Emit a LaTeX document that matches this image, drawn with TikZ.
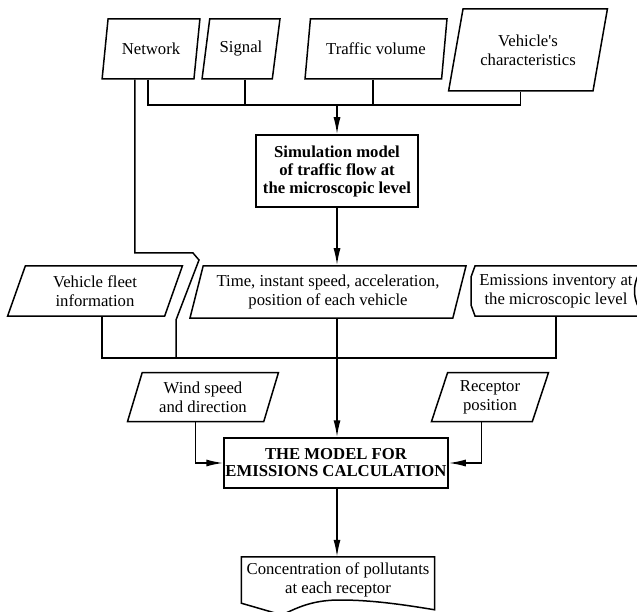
\documentclass[tikz,border=0pt]{standalone}
\usepackage{fontspec}
\setmainfont{Liberation Serif}
\usetikzlibrary{shapes.geometric,arrows.meta}
\tikzstyle{wire}=[line width=1.5pt]
\tikzstyle{arrow}=[wire, -{Latex[length=17pt,width=7pt]}]
\tikzstyle{io}=[trapezium, trapezium left angle=71, trapezium right angle=109, trapezium stretches=true, draw=black, line width=1.5pt, align=center, inner sep=0pt]
\tikzstyle{block}=[rectangle, draw=black, line width=1.5pt, align=center, inner sep=0pt]
\begin{document}
\begin{tikzpicture}[x=1pt,y=-1pt,font=\fontsize{16.7}{19}\selectfont]
	\useasboundingbox (0,0) rectangle (637,612);

	% input data
	\node[io, minimum width=98, minimum height=60](network) at (151,49){Network};
	\node[io, minimum width=78, minimum height=60](signal) at (241,49){Signal};
	\node[io, minimum width=142, minimum height=60](volume) at (376,49){Traffic volume};
	\node[io, minimum width=159, minimum height=82](vehicle) at (528,50){Vehicle\textquotesingle s\\characteristics};

	\node[block, minimum width=162, minimum height=72, font=\bfseries\fontsize{16.7}{18}\selectfont](sim) at (337,171){Simulation model\\of traffic flow at\\the microscopic level};

	\node[io, minimum width=175, minimum height=50](fleet) at (95,291){Vehicle fleet\\information};
	\node[io, minimum width=277, minimum height=52](time) at (328,292){Time, instant speed, acceleration,\\position of each vehicle};
	\node[minimum width=160, minimum height=50, align=center, inner sep=0pt](inventory) at (556,291){Emissions inventory at\\the microscopic level};

	\node[io, minimum width=151, minimum height=49](wind) at (203,397){Wind speed\\and direction};
	\node[io, minimum width=118, minimum height=49](receptor) at (490,397){Receptor\\position};
	\node[block, minimum width=224, minimum height=50, font=\bfseries\fontsize{16.7}{17}\selectfont](calc) at (336,463){THE MODEL FOR\\EMISSIONS CALCULATION};

	\node[minimum width=193, minimum height=46, align=center, inner sep=0pt](conc) at (338,580){Concentration of pollutants\\at each receptor};

	\coordinate (bus1) at (337,105);
	\coordinate (bus2) at (337,358);
	\coordinate (n1) at (193,253);
	\coordinate (n2) at (199,260);
	\coordinate (n3) at (176,320);

	% inventory and result outlines
	\draw[wire] (645,266) -- (475,266) -- (471,277) -- (471,305) -- (475,316) -- (645,316) .. controls (631,302) and (631,280) .. (645,266);
	\draw[wire] (conc.north west) -- (conc.north east) -- ++(0,53) .. controls (400,604) and (370,600) .. (340,600) .. controls (315,600) and (300,606) .. (282,615) -- (conc.south west) -- cycle;

	\draw[wire] (network.bottom side) |- (bus1) -| (vehicle.bottom side);
	\draw[wire] ([xshift=8pt]signal.bottom side) -- ([xshift=8pt]signal.bottom side |- bus1);
	\draw[wire] (volume.bottom side) -- (volume.bottom side |- bus1);
	\draw[arrow] (bus1) -- (sim.north);
	\draw[arrow] (sim.south) -- (sim.south |- time.north);

	\draw[wire] ([xshift=-13pt]network.bottom side) |- (n1) -- (n2) -- (n3) -- (n3 |- bus2);
	\draw[wire] ([xshift=16pt]fleet.bottom side) |- (bus2) -| (inventory.south);
	\draw[arrow] (sim.south |- time.south) -- (sim.south |- calc.north);

	\draw[arrow] (wind.bottom side) |- (calc.west);
	\draw[arrow] (receptor.bottom side) |- (calc.east);
	\draw[arrow] (sim.south |- calc.south) -- (sim.south |- conc.north);

\end{tikzpicture}
\end{document}
